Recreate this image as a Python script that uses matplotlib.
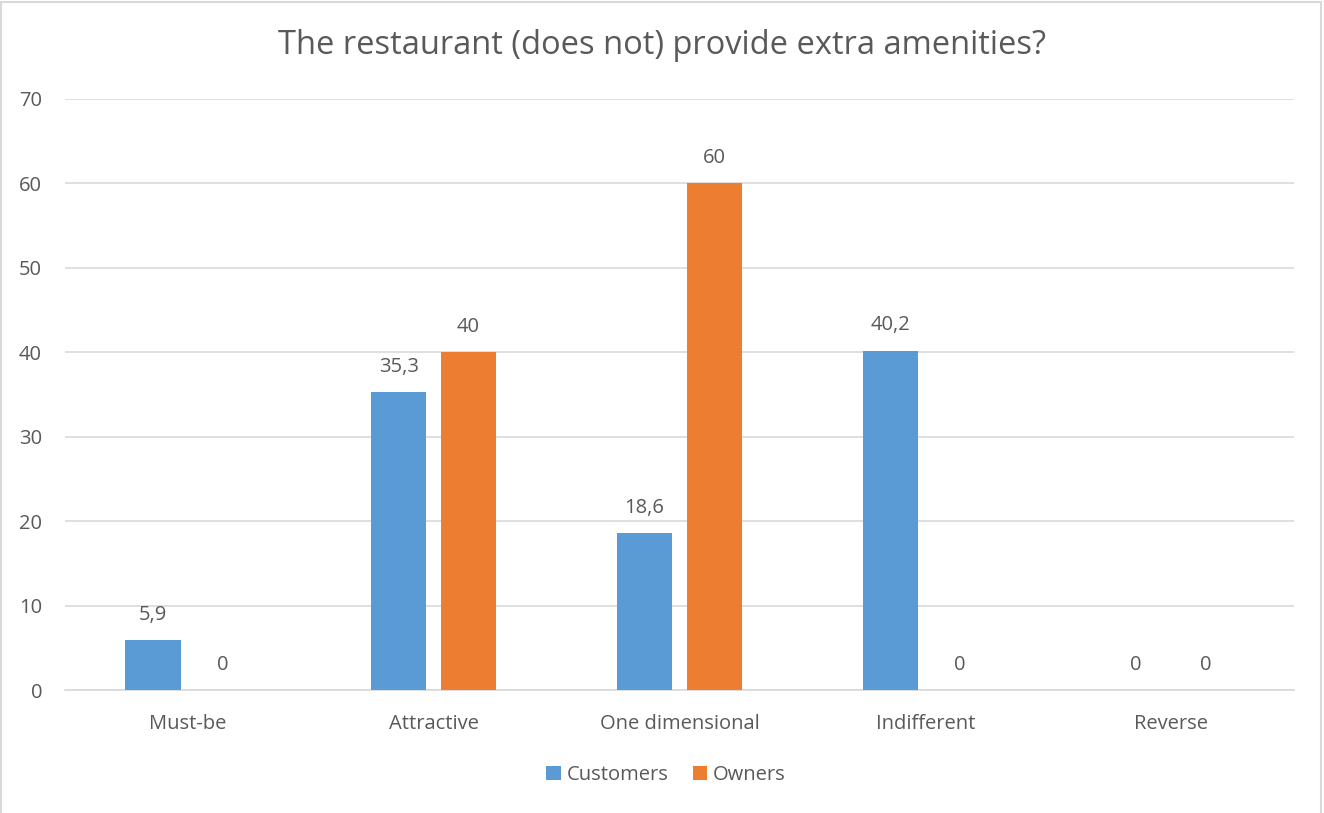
import matplotlib.pyplot as plt
import numpy as np
from matplotlib.patches import Rectangle

categories = ['Must-be', 'Attractive', 'One dimensional', 'Indifferent', 'Reverse']
customers = [5.9, 35.3, 18.6, 40.2, 0]
owners = [0, 40, 60, 0, 0]
labels_customers = ['5,9', '35,3', '18,6', '40,2', '0']
labels_owners = ['0', '40', '60', '0', '0']

BLUE = '#5b9bd5'
ORANGE = '#ed7d31'
TEXT = '#595959'
GRID = '#d9d9d9'
FS = 14.5

plt.rcParams['font.family'] = ['Open Sans', 'DejaVu Sans']

fig = plt.figure(figsize=(13.24, 8.13), dpi=100)
ax = fig.add_axes([65 / 1324, 1 - 690 / 813, 1229 / 1324, 591 / 813])

x = np.arange(len(categories))
w = 0.224
off = 0.142
b1 = ax.bar(x - off, customers, w, color=BLUE, label='Customers', zorder=3)
b2 = ax.bar(x + off, owners, w, color=ORANGE, label='Owners', zorder=3)

for bars, labs in ((b1, labels_customers), (b2, labels_owners)):
    for rect, lab in zip(bars, labs):
        ax.annotate(lab, (rect.get_x() + rect.get_width() / 2, rect.get_height()),
                    xytext=(0, 11), textcoords='offset points', ha='center', va='bottom',
                    fontsize=FS, color=TEXT)

ax.set_xlim(-0.5, len(categories) - 0.5)
ax.set_ylim(0, 70)
ax.set_yticks(range(0, 71, 10))
ax.set_xticks(x)
ax.set_xticklabels(categories)
ax.grid(axis='y', color=GRID, linewidth=1.2, zorder=0)
for s in ['top', 'right', 'left']:
    ax.spines[s].set_visible(False)
ax.spines['bottom'].set_color(GRID)
ax.spines['bottom'].set_linewidth(1.2)
ax.tick_params(length=0, labelsize=FS, labelcolor=TEXT)
ax.tick_params(axis='x', pad=17)
ax.tick_params(axis='y', pad=16.5)

fig.suptitle('The restaurant (does not) provide extra amenities?', y=1 - 45 / 813, va='center',
             fontsize=23.5, color=TEXT)

leg = fig.legend(loc='center', bbox_to_anchor=(666 / 1324, 1 - 775 / 813), ncol=2, frameon=False,
                 fontsize=FS, handlelength=0.7, handleheight=0.7, handletextpad=0.3,
                 columnspacing=1.2, labelcolor=TEXT)

fig.patches.append(Rectangle((0.001, -0.01), 0.997, 1.008, transform=fig.transFigure,
                             fill=False, edgecolor=GRID, linewidth=1.5))

plt.savefig('out.png', dpi=100)
